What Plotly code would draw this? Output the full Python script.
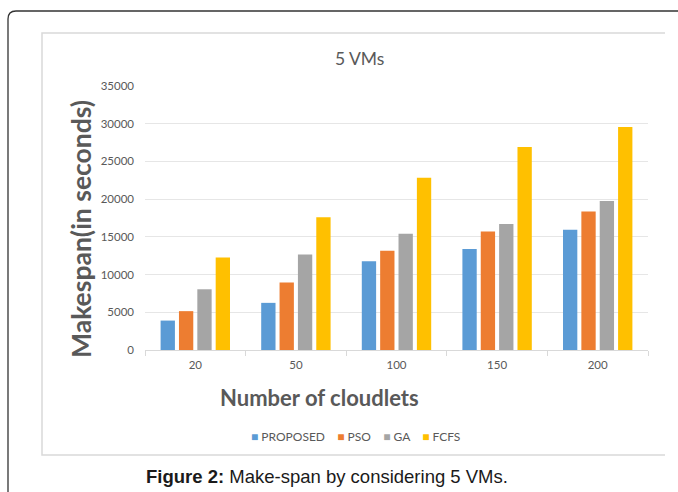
import plotly.graph_objects as go

# Number of cloudlets on the x axis
cloudlets = ["20", "50", "100", "150", "200"]

# Makespan values (seconds)
proposed = [3900, 6250, 11750, 13400, 15950]
pso = [5150, 8950, 13150, 15700, 18350]
ga = [8050, 12650, 15400, 16700, 19750]
fcfs = [12250, 17600, 22850, 26900, 29550]

series_names = ["PROPOSED", "PSO", "GA", "FCFS"]
series_colours = ["#5b9bd5", "#ed7d31", "#a5a5a5", "#ffc000"]

W, H = 678, 492
ML, MR, MT, MB = 145, 30, 86, 142
PW, PH = W - ML - MR, H - MT - MB


def px(x):
    # pixel x -> paper coordinate
    return (x - ML) / PW


def py(y):
    # pixel y -> paper coordinate
    return (H - MB - y) / PH


fig = go.Figure()
for name, vals, col in zip(series_names, [proposed, pso, ga, fcfs], series_colours):
    fig.add_trace(go.Bar(x=cloudlets, y=vals, name=name, marker_color=col,
                         marker_line_width=0))

grey = "#595959"
chart_font = "Lato, Open Sans, sans-serif"

fig.update_layout(
    width=W, height=H,
    margin=dict(l=ML, r=MR, t=MT, b=MB, autoexpand=False),
    paper_bgcolor="white", plot_bgcolor="white",
    barmode="group", bargap=0.27, bargroupgap=0.22,
    font=dict(family=chart_font, color=grey, size=10),
    showlegend=False,
    xaxis=dict(type="category", showgrid=False, showline=True, linecolor="#d9d9d9",
               ticks="outside", tickson="boundaries", ticklen=5, tickcolor="#d9d9d9",
               tickfont=dict(size=11.5, color=grey), ticklabelstandoff=4, fixedrange=True),
    yaxis=dict(range=[0, 35000], dtick=5000, tickformat="d", showgrid=True,
               gridcolor="#e6e6e6", zeroline=False, showline=False,
               tickfont=dict(size=11.5, color=grey), ticklabelstandoff=10, fixedrange=True),
)


def label(text, x, y, size, colour=grey, family=chart_font, angle=0):
    fig.add_annotation(text=text, x=px(x), y=py(y), xref="paper", yref="paper",
                       xanchor="center", yanchor="middle", showarrow=False,
                       textangle=angle, font=dict(size=size, color=colour, family=family))


label("5 VMs", 359, 58, 17.5)
label("<b>Makespan(in seconds)</b>", 81, 229, 26.5, angle=-90)
label("<b>Number of cloudlets</b>", 319, 397, 22)

# legend drawn as one line of text with coloured squares
legend_text = "&nbsp;&nbsp;&nbsp;&nbsp;".join(
    f"<span style='color:{c}'>■</span> {n}" for n, c in zip(series_names, series_colours))
label(legend_text, 355, 436, 12)

label("<b>Figure 2:</b> Make-span by considering 5 VMs.", 327, 476, 18.5,
      colour="#1a1a1a", family="Liberation Sans, Arial, sans-serif")

# inner chart frame (light grey)
fig.add_shape(type="path", xref="paper", yref="paper",
              path=f"M {px(665)},{py(33)} L {px(42)},{py(33)} L {px(42)},{py(455)} L {px(665)},{py(455)}",
              line=dict(color="#d9d9d9", width=1.5))
# outer rounded frame
r = 8
fig.add_shape(type="path", xref="paper", yref="paper",
              path=(f"M {px(8)},{py(492)} L {px(8)},{py(11 + r)} "
                    f"Q {px(8)},{py(11)} {px(8 + r)},{py(11)} L {px(678)},{py(11)}"),
              line=dict(color="#333333", width=1.3))

fig.write_html("out.html", config={"displayModeBar": False},
               post_script="document.body.style.margin='0px';")
